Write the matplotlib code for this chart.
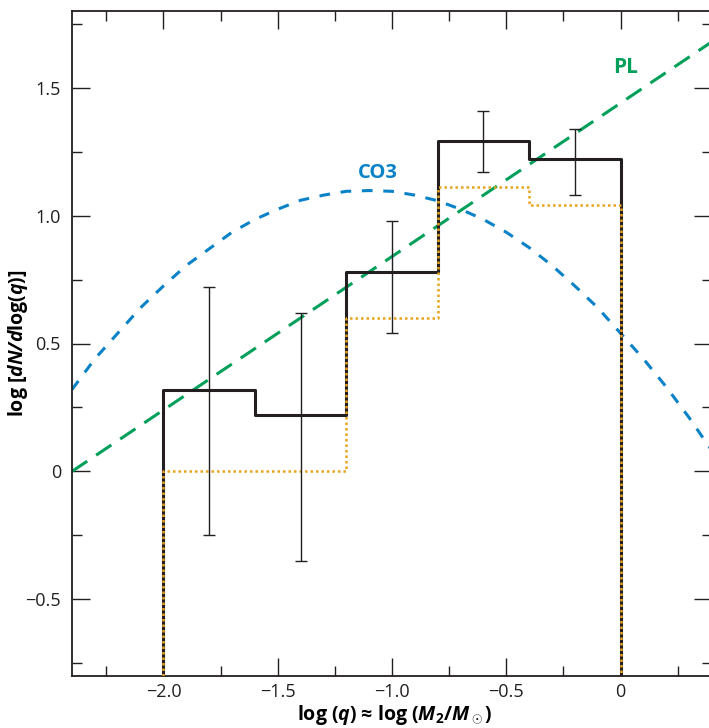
import numpy as np
import matplotlib
matplotlib.use("Agg")
import matplotlib.pyplot as plt
from matplotlib.ticker import MultipleLocator, FixedLocator, FixedFormatter

plt.rcParams['font.family'] = ['Open Sans', 'DejaVu Sans']
plt.rcParams['mathtext.fontset'] = 'custom'
plt.rcParams['mathtext.rm'] = 'Open Sans'
plt.rcParams['mathtext.it'] = 'Open Sans:italic'
plt.rcParams['mathtext.bf'] = 'Open Sans:bold'
plt.rcParams['mathtext.bfit'] = 'Open Sans:bold:italic'

# histogram bins (log q) and heights
bin_edges = [-2.0, -1.6, -1.2, -0.8, -0.4, 0.0]
obs_heights = [0.32, 0.22, 0.78, 1.29, 1.22]
corr_heights = [0.0, 0.0, 0.60, 1.11, 1.04]

# error bars at bin centres
err_x = [-1.8, -1.4, -1.0, -0.6, -0.2]
err_lo = [-0.25, -0.35, 0.54, 1.17, 1.08]
err_hi = [0.72, 0.62, 0.98, 1.41, 1.34]

# power law (PL)
pl_x = [-2.4, 0.4]
pl_y = [0.0, 1.68]

# CO3 curve
co3_x = [-2.4, -2.3, -2.2, -2.1, -2.0, -1.9, -1.8, -1.7, -1.6, -1.5, -1.4, -1.3, -1.2, -1.1,
         -1.0, -0.9, -0.8, -0.7, -0.6, -0.5, -0.4, -0.3, -0.2, -0.1, 0.0, 0.1, 0.2, 0.3, 0.4]
co3_y = [0.32, 0.44, 0.54, 0.64, 0.725, 0.805, 0.87, 0.935, 0.985, 1.025, 1.06, 1.08, 1.095, 1.098,
         1.095, 1.08, 1.058, 1.025, 0.985, 0.935, 0.875, 0.805, 0.725, 0.64, 0.54, 0.44, 0.33, 0.21, 0.08]

xticks = [-2.0, -1.5, -1.0, -0.5, 0.0]
xticklabels = ['\u22122.0', '\u22121.5', '\u22121.0', '\u22120.5', '0']
yticks = [-0.5, 0.0, 0.5, 1.0, 1.5]
yticklabels = ['\u22120.5', '0', '0.5', '1.0', '1.5']

fig = plt.figure(figsize=(7.09, 7.28), dpi=100)
ax = fig.add_axes([72/709, 52/728, 640/709, 665/728])

# step outlines, dropping to the bottom at both ends
def step_xy(edges, h, floor):
    xs = [edges[0]]
    ys = [floor]
    for i in range(len(h)):
        xs += [edges[i], edges[i+1]]
        ys += [h[i], h[i]]
    xs.append(edges[-1])
    ys.append(floor)
    return xs, ys

sx, sy = step_xy(bin_edges, obs_heights, -0.8)
ax.plot(sx, sy, color='#231f20', lw=2.2, zorder=3)
cx, cy = step_xy(bin_edges, corr_heights, -0.8)
ax.plot(cx, cy, color='#e9a21f', lw=1.8, ls=(0, (1, 1.2)), zorder=4)

err_y = [(l + h) / 2 for l, h in zip(err_lo, err_hi)]
yerr = [[m - l for m, l in zip(err_y, err_lo)], [h - m for h, m in zip(err_hi, err_y)]]
ax.errorbar(err_x, err_y, yerr=yerr, fmt='none', ecolor='#231f20', elinewidth=1.0,
            capsize=4.5, capthick=1.0, zorder=5)

ax.plot(pl_x, pl_y, color='#00a05a', lw=2.2, ls=(0, (6, 3.5)), zorder=2)
ax.plot(co3_x, co3_y, color='#0a82c8', lw=2.2, ls=(0, (3.5, 3.5)), zorder=2)

ax.text(0.02, 1.58, 'PL', color='#00a05a', fontsize=15, fontweight='bold', ha='center', va='center')
ax.text(-1.06, 1.165, 'CO3', color='#0a82c8', fontsize=14.5, fontweight='bold', ha='center', va='center')

ax.set_xlim(-2.4, 0.4)
ax.set_ylim(-0.8, 1.8)
ax.xaxis.set_major_locator(FixedLocator(xticks))
ax.xaxis.set_major_formatter(FixedFormatter(xticklabels))
ax.yaxis.set_major_locator(FixedLocator(yticks))
ax.yaxis.set_major_formatter(FixedFormatter(yticklabels))
ax.xaxis.set_minor_locator(MultipleLocator(0.25))
ax.yaxis.set_minor_locator(MultipleLocator(0.25))
ax.tick_params(which='both', direction='in', top=True, right=True, labelsize=13,
               colors='#231f20', width=1.0)
ax.tick_params(which='major', length=13)
ax.tick_params(axis='y', which='major', pad=8)
ax.tick_params(axis='x', which='major', pad=5)
ax.tick_params(which='minor', length=7)
for s in ax.spines.values():
    s.set_linewidth(1.3)
    s.set_color('#231f20')

ax.set_xlabel('log ($\\mathbfit{q}$) \u2248 log ($\\mathbfit{M}_\\mathbf{2}$/$\\mathbfit{M}_\\odot$)',
              fontsize=14, fontweight='bold')
ax.set_ylabel(r'log [$\mathbfit{dN/d}$log($\mathbfit{q}$)]', fontsize=14, fontweight='bold')
ax.xaxis.set_label_coords(0.505, -0.040)
ax.yaxis.set_label_coords(-0.066, 0.5)

fig.savefig('out.png', dpi=100)
